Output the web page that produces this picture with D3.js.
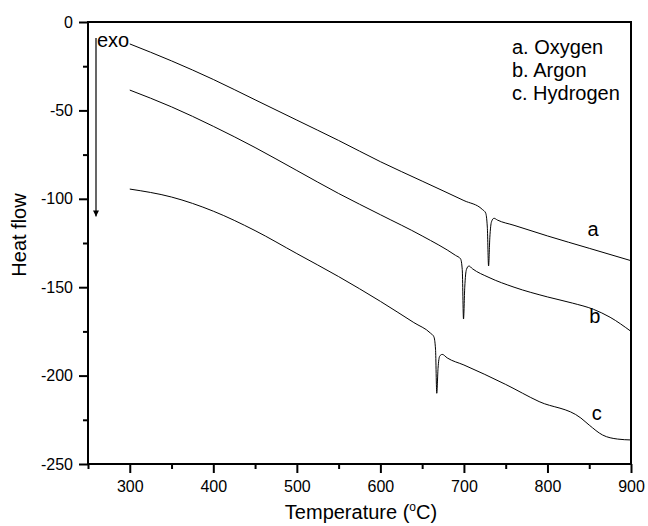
<!DOCTYPE html>
<html>
<head>
<meta charset="utf-8">
<script src="https://cdn.jsdelivr.net/npm/d3@7"></script>
<style>
  body { margin: 0; background: #fff; }
  svg text { font-family: "Liberation Sans", Arial, sans-serif; fill: #000; }
</style>
</head>
<body>
<div id="graphic"></div>
<script>
// DSC traces
var tempA = [300, 350, 400, 450, 500, 550, 600, 650, 700, 722, 726, 728, 729.5, 731, 733, 736, 740, 760, 800, 850, 900];
var heatA = [-12.4, -22, -32.5, -44, -55.5, -67, -79, -90, -101, -106, -108, -116, -138, -122, -113, -111, -112, -115, -121, -128, -135];

var tempB = [300, 350, 400, 450, 500, 550, 600, 650, 690, 696, 698, 699.5, 701, 703, 706, 710, 730, 760, 800, 830, 855, 875, 900];
var heatB = [-38.5, -48, -59, -71, -84, -97, -109, -121, -132, -134, -140, -168, -150, -140, -138, -139.5, -144.5, -150, -155.5, -159, -162.5, -167, -175];

var tempC = [300, 350, 400, 450, 500, 550, 600, 640, 660, 664, 666, 667.5, 669, 671, 674, 680, 700, 750, 790, 840, 850, 866, 884, 900];
var heatC = [-94.5, -99, -107, -118, -131, -144, -158, -170, -176, -178, -185, -210, -196, -189, -188, -190, -194, -205, -214.7, -224, -228, -233.6, -235.9, -236.4];

var legendLabels = ["a. Oxygen", "b. Argon", "c. Hydrogen"];
var curveLabels = ["a", "b", "c"];
var curveLabelPos = [[848, -121], [850, -170], [853, -225]];

var xTicks = [300, 400, 500, 600, 700, 800, 900];
var xMinor = [250, 350, 450, 550, 650, 750, 850];
var yTicks = [0, -50, -100, -150, -200, -250];
var yMinor = [-25, -75, -125, -175, -225];

var graphic = {};

graphic.create = function() {
  var margin = {left: 88, top: 22, right: 17, bottom: 62};
  var width = 648, height = 526;
  var svg = d3.select("#graphic").append("svg").attr("width", width).attr("height", height);

  var x = d3.scaleLinear().domain([250, 900]).range([margin.left, width - margin.right]);
  var y = d3.scaleLinear().domain([-250, 0]).range([height - margin.bottom, margin.top]);
  var fmt = function(d) { return String(d); };

  // frame
  svg.append("rect")
    .attr("x", x(250)).attr("y", y(0))
    .attr("width", x(900) - x(250)).attr("height", y(-250) - y(0))
    .attr("fill", "none").attr("stroke", "#000").attr("stroke-width", 2);

  svg.append("g").attr("transform", "translate(0," + y(-250) + ")")
    .call(d3.axisBottom(x).tickValues(xTicks).tickSize(9).tickPadding(8).tickFormat(fmt));
  svg.append("g").attr("transform", "translate(0," + y(-250) + ")")
    .call(d3.axisBottom(x).tickValues(xMinor).tickSize(5).tickFormat(""));
  svg.append("g").attr("transform", "translate(" + x(250) + ",0)")
    .call(d3.axisLeft(y).tickValues(yTicks).tickSize(9).tickPadding(6).tickFormat(fmt));
  svg.append("g").attr("transform", "translate(" + x(250) + ",0)")
    .call(d3.axisLeft(y).tickValues(yMinor).tickSize(5).tickFormat(""));

  svg.selectAll(".domain").remove();
  svg.selectAll(".tick line").attr("stroke", "#000").attr("stroke-width", 2);
  svg.selectAll(".tick text").attr("font-size", 16).attr("fill", "#000");

  // curves
  var line = d3.line()
    .x(function(d) { return x(d[0]); })
    .y(function(d) { return y(d[1]); })
    .curve(d3.curveMonotoneX);
  var series = [d3.zip(tempA, heatA), d3.zip(tempB, heatB), d3.zip(tempC, heatC)];
  svg.append("g").selectAll("path").data(series).enter().append("path")
    .attr("d", line).attr("fill", "none").attr("stroke", "#000").attr("stroke-width", 1);

  svg.append("g").selectAll("text").data(curveLabels).enter().append("text")
    .attr("x", function(d, i) { return x(curveLabelPos[i][0]); })
    .attr("y", function(d, i) { return y(curveLabelPos[i][1]); })
    .attr("font-size", 20).text(function(d) { return d; });

  // legend
  svg.append("g").selectAll("text").data(legendLabels).enter().append("text")
    .attr("x", 512).attr("y", function(d, i) { return 54 + i * 23; })
    .attr("font-size", 20).text(function(d) { return d; });

  // exo arrow
  svg.append("defs").append("marker").attr("id", "head")
    .attr("viewBox", "0 0 10 10").attr("refX", 10).attr("refY", 5)
    .attr("markerWidth", 6).attr("markerHeight", 8).attr("markerUnits", "userSpaceOnUse")
    .attr("orient", "auto")
    .append("path").attr("d", "M0,0L10,5L0,10Z").attr("fill", "#000");
  svg.append("line")
    .attr("x1", 96).attr("x2", 96).attr("y1", 38).attr("y2", y(-110))
    .attr("stroke", "#000").attr("stroke-width", 1.2).attr("marker-end", "url(#head)");
  svg.append("text").attr("x", 97).attr("y", 47).attr("font-size", 20).text("exo");

  // axis titles
  var xt = svg.append("text").attr("x", 361).attr("y", 519)
    .attr("text-anchor", "middle").attr("font-size", 20);
  xt.append("tspan").text("Temperature (");
  xt.append("tspan").attr("font-size", 12).attr("dy", -8).text("o");
  xt.append("tspan").attr("dy", 8).text("C)");

  svg.append("text").attr("transform", "translate(26," + 235 + ") rotate(-90)")
    .attr("text-anchor", "middle").attr("font-size", 20).text("Heat flow");
};

graphic.create();
</script>
</body>
</html>
